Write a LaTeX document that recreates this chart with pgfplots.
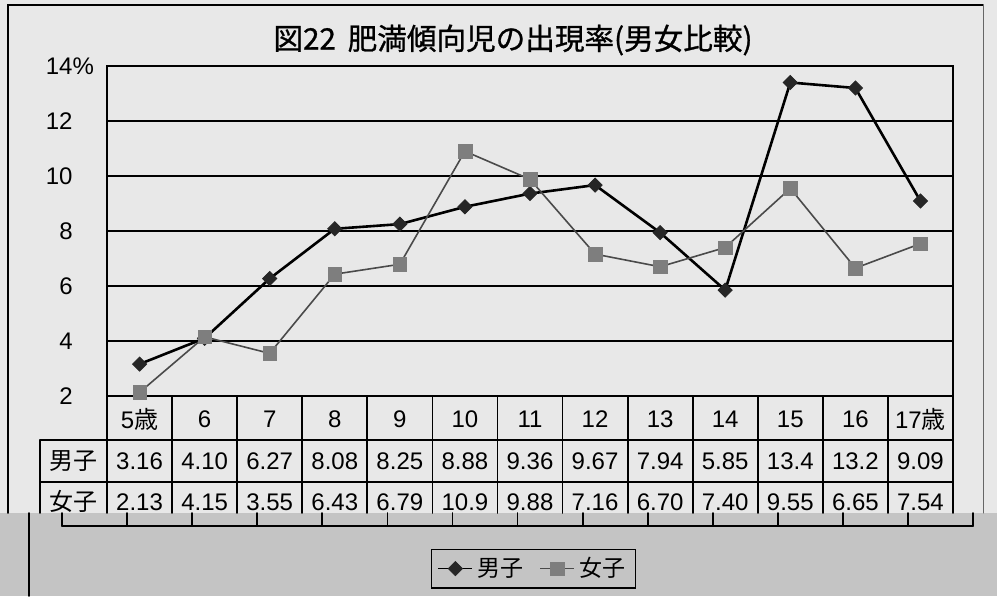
\documentclass[border=0pt]{standalone}
\usepackage{pgfplots}
\pgfplotsset{compat=1.18}
\usepackage{pgfplotstable}
\usepackage{fontspec}
\setmainfont{Liberation Sans}
\newfontfamily\jp{Noto Sans CJK JP}
\newfontfamily\jptitle[FakeBold=0.9]{Noto Sans CJK JP}

\definecolor{paper}{HTML}{E8E8E8}
\definecolor{band}{HTML}{C4C4C4}
\definecolor{girlc}{HTML}{7E7E7E}
\definecolor{girlline}{HTML}{4A4A4A}

% age index, boys, girls
\pgfplotstableread{
x boy girl
0 3.16 2.13
1 4.10 4.15
2 6.27 3.55
3 8.08 6.43
4 8.25 6.79
5 8.88 10.9
6 9.36 9.88
7 9.67 7.16
8 7.94 6.70
9 5.85 7.40
10 13.4 9.55
11 13.2 6.65
12 9.09 7.54
}\rates

\begin{document}
\begin{tikzpicture}[line cap=round]
\useasboundingbox (0,0) rectangle (498.5pt,298pt);
\fill[paper] (0,0) rectangle (498.5pt,298pt);
% scanned grey band at the bottom
\fill[band] (0,0) rectangle (498.5pt,41.5pt);
\draw[line width=0.9pt] (14.5pt,0) -- (14.5pt,41.5pt);
\draw[line width=0.9pt] (31pt,35pt) -- (486.5pt,35pt);
\foreach \k in {0,...,14}
  \draw[line width=0.9pt] ({31pt+32.54pt*\k},35pt) -- ({31pt+32.54pt*\k},41.5pt);
% outer frame
\draw[line width=0.8pt] (4pt,41.5pt) -- (4pt,295.5pt) -- (491.5pt,295.5pt);
\draw[line width=0.5pt, black!60] (491.5pt,295.5pt) -- (491.5pt,41.5pt);
% title
\node[font=\jptitle\fontsize{14.8pt}{16pt}\selectfont] at (256.5pt,278pt) {図22\hspace{0.4em}肥満傾向児の出現率(男女比較)};

\begin{axis}[
  at={(53.5pt,100pt)}, anchor=south west,
  scale only axis, width=423pt, height=165pt,
  xmin=-0.5, xmax=12.5, ymin=2, ymax=14,
  clip=false,
  axis line style={line width=0.9pt},
  xtick={0,...,12},
  xticklabels={5{\jp 歳},6,7,8,9,10,11,12,13,14,15,16,17{\jp 歳}},
  xticklabel style={anchor=center, yshift=-11.5pt, font=\fontsize{12pt}{13pt}\selectfont},
  ytick={2,4,...,14},
  yticklabels={2,4,6,8,10,12,14\rlap{\%}},
  yticklabel style={anchor=east, inner sep=0pt, xshift=-17pt, font=\fontsize{12pt}{13pt}\selectfont},
  /pgf/number format/assume math mode=true,
  major tick length=0pt,
  ymajorgrids, grid style={black, line width=0.8pt},
  legend columns=2,
  legend style={at={(0.504,-0.523)}, anchor=center, draw=black, line width=0.8pt,
    fill=band, font=\jp\fontsize{11.5pt}{13pt}\selectfont,
    /tikz/every even column/.append style={column sep=6pt}},
  legend image post style={line width=0.9pt},
]
\addplot[black, line width=1.3pt, mark=square*, mark size=2.5pt,
  mark options={rotate=45, fill=black!85, draw=black!85, line width=0.4pt}]
  table[x=x, y=boy] {\rates};
\addlegendentry{男子}
\addplot[girlline, line width=0.8pt, mark=square*, mark size=3.4pt,
  mark options={fill=girlc, draw=girlc, line width=0.2pt}]
  table[x=x, y=girl] {\rates};
\addlegendentry{女子}
% data table rows under the axis
\addplot[draw=none, mark=none, forget plot, nodes near coords, point meta=explicit symbolic,
  nodes near coords style={anchor=center, font=\fontsize{12pt}{13pt}\selectfont}]
  table[x=x, y expr=-0.364, meta=boy] {\rates};
\addplot[draw=none, mark=none, forget plot, nodes near coords, point meta=explicit symbolic,
  nodes near coords style={anchor=center, font=\fontsize{12pt}{13pt}\selectfont}]
  table[x=x, y expr=-1.85, meta=girl] {\rates};
\node[font=\jp\fontsize{12pt}{13pt}\selectfont] at (axis cs:-1.015,-0.364) {男子};
\node[font=\jp\fontsize{12pt}{13pt}\selectfont] at (axis cs:-1.015,-1.85) {女子};
\end{axis}

% table rules
\draw[line width=0.9pt] (20pt,78pt) -- (476.5pt,78pt);
\draw[line width=0.9pt] (20pt,57pt) -- (476.5pt,57pt);
\draw[line width=0.9pt] (20pt,78pt) -- (20pt,41.5pt);
\foreach \k in {0,...,13}
  \draw[line width=0.9pt] ({53.5pt+32.54pt*\k},100pt) -- ({53.5pt+32.54pt*\k},41.5pt);
\end{tikzpicture}
\end{document}
